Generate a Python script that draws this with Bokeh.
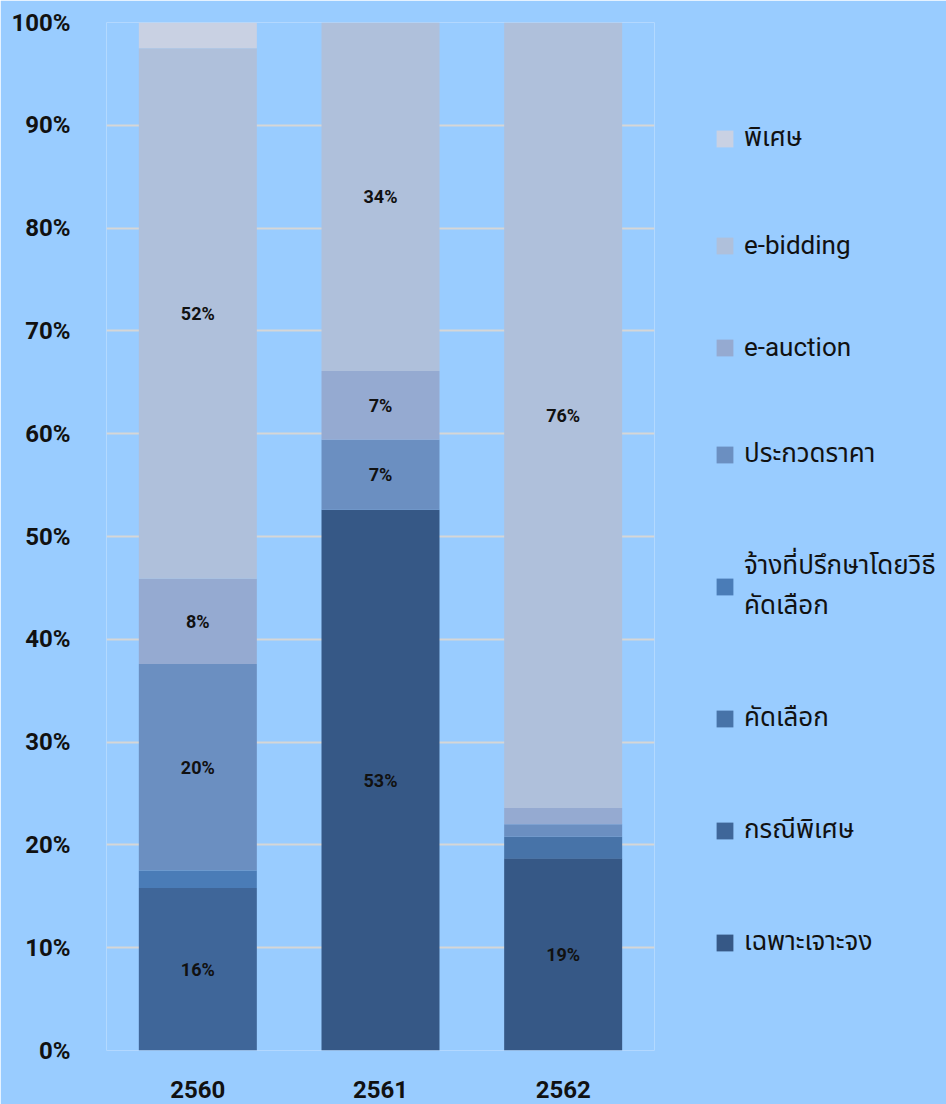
import numpy as np
from bokeh.plotting import figure
from bokeh.models import (Range1d, NumeralTickFormatter, Legend, LegendItem,
                          ColumnDataSource, FixedTicker)
from bokeh.core.properties import value
from bokeh.embed import file_html
from bokeh.resources import INLINE

years = ["2560", "2561", "2562"]
categories = ["เฉพาะเจาะจง", "กรณีพิเศษ", "คัดเลือก", "จ้างที่ปรึกษาโดยวิธีคัดเลือก",
              "ประกวดราคา", "e-auction", "e-bidding", "พิเศษ"]
legend_labels = ["เฉพาะเจาะจง", "กรณีพิเศษ", "คัดเลือก", "จ้างที่ปรึกษาโดยวิธี\nคัดเลือก",
                 "ประกวดราคา", "e-auction", "e-bidding", "พิเศษ"]
colors = ["#365886", "#3f6699", "#4773a8", "#4a7cb7",
          "#6b8fc1", "#95aad1", "#afc0db", "#c9d1e3"]

# share (percent) of each method per year
s_specific = [0.0, 52.6, 18.7]
s_special_case = [15.8, 0.0, 0.0]
s_selection = [0.0, 0.0, 2.1]
s_consultant = [1.7, 0.0, 0.0]
s_price_bid = [20.1, 6.8, 1.2]
s_e_auction = [8.3, 6.7, 1.6]
s_e_bidding = [51.6, 33.9, 76.4]
s_special = [2.5, 0.0, 0.0]

series = [s_specific, s_special_case, s_selection, s_consultant,
          s_price_bid, s_e_auction, s_e_bidding, s_special]

BG = "#99ccff"
FONT = "Roboto"
LEGEND_FONT = "Roboto, 'Noto Sans Thai', 'Noto Sans Thai UI', sans-serif"

data = {"year": years}
for name, vals in zip(categories, series):
    data[name] = [v / 100.0 for v in vals]
src = ColumnDataSource(data)

p = figure(x_range=years, y_range=Range1d(0, 1), frame_width=548, frame_height=1028,
           output_backend="svg", toolbar_location=None,
           min_border_left=106, min_border_right=0, min_border_top=22,
           min_border_bottom=54)
p.background_fill_color = BG
p.border_fill_color = BG
p.outline_line_color = None

renderers = p.vbar_stack(categories, x="year", width=0.646, source=src,
                         color=colors, line_color=None)

# labels on segments
arr = np.array(series) / 100.0
cum = np.cumsum(arr, axis=0)
lx, ly, lt = [], [], []
for i in range(arr.shape[0]):
    for j, yr in enumerate(years):
        v = arr[i, j]
        if v >= 0.05:
            lx.append(yr)
            ly.append(cum[i, j] - v / 2)
            lt.append(f"{round(v * 100):.0f}%")
p.text(x=lx, y=ly, text=lt, text_align="center", text_baseline="middle",
       text_font=value(FONT), text_font_size="18px", text_font_style="bold",
       text_color="#111111")

# axes
p.yaxis.ticker = FixedTicker(ticks=[i / 10 for i in range(11)])
p.yaxis.formatter = NumeralTickFormatter(format="0%")
for ax in (p.xaxis[0], p.yaxis[0]):
    ax.axis_line_color = None
    ax.major_tick_line_color = None
    ax.minor_tick_line_color = None
    ax.major_label_text_font = FONT
    ax.major_label_text_font_size = "24px"
    ax.major_label_text_font_style = "bold"
    ax.major_label_text_color = "#111111"
p.yaxis.major_label_standoff = 30
p.xaxis.major_label_standoff = 24

p.xgrid.grid_line_color = None
p.ygrid.grid_line_color = "#d6d6d6"
p.ygrid.grid_line_width = 2

items = [LegendItem(label=lab, renderers=[r])
         for lab, r in zip(legend_labels, renderers)][::-1]
legend = Legend(items=items, location=(60, 88), orientation="vertical",
                glyph_width=21, glyph_height=21, label_standoff=9,
                label_height=30, spacing=72, padding=0, margin=0,
                label_text_font=LEGEND_FONT, label_text_font_size="26px",
                label_text_color="#111111", border_line_color=None,
                background_fill_alpha=0)
p.add_layout(legend, "right")

open("out.html", "w").write(file_html(p, INLINE))
